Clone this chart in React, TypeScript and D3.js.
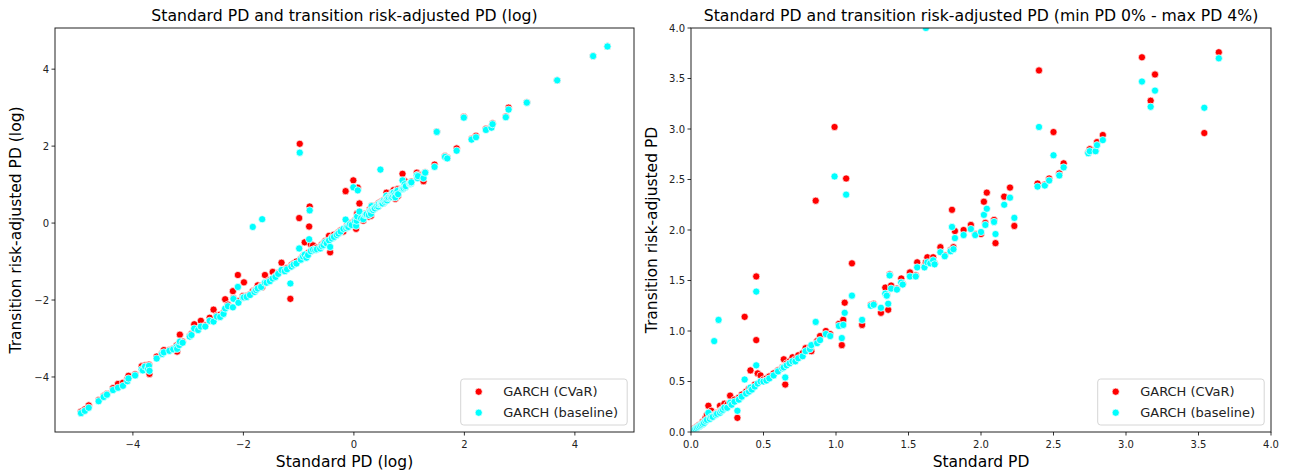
import React from "react";
import * as d3 from "d3";

// ---------- Data: left panel (log scale) ----------
const logStdPD = [
  -4.94, -4.87, -4.8, -4.62, -4.53, -4.47, -4.36, -4.27, -4.18, -4.1,
  -4.08, -3.96, -3.84, -3.82, -3.78, -3.73, -3.71, -3.7, -3.57, -3.47,
  -3.44, -3.34, -3.27, -3.21, -3.2, -3.16, -3.15, -3.1, -2.97, -2.94,
  -2.89, -2.82, -2.77, -2.69, -2.61, -2.54, -2.48, -2.42, -2.36, -2.33,
  -2.28, -2.19, -2.18, -2.1, -2.09, -2.01, -1.99, -1.94, -1.88, -1.83,
  -1.8, -1.77, -1.74, -1.68, -1.66, -1.61, -1.58, -1.52, -1.47, -1.42,
  -1.37, -1.31, -1.25, -1.21, -1.15, -1.13, -1.09, -1.04, -0.99, -0.98,
  -0.96, -0.92, -0.89, -0.86, -0.83, -0.8, -0.81, -0.78, -0.74, -0.7,
  -0.67, -0.61, -0.58, -0.55, -0.52, -0.49, -0.45, -0.43, -0.4, -0.36,
  -0.31, -0.28, -0.24, -0.19, -0.15, -0.14, -0.12, -0.1, -0.07, -0.04,
  -0.01, 0.02, 0.04, 0.05, 0.06, 0.07, 0.1, 0.13, 0.17, 0.2,
  0.22, 0.23, 0.27, 0.29, 0.3, 0.31, 0.32, 0.33, 0.35, 0.37,
  0.38, 0.41, 0.44, 0.45, 0.48, 0.48, 0.49, 0.5, 0.51, 0.52,
  0.54, 0.56, 0.58, 0.59, 0.6, 0.61, 0.63, 0.66, 0.67, 0.69,
  0.7, 0.71, 0.72, 0.74, 0.75, 0.77, 0.79, 0.8, 0.87, 0.88,
  0.89, 0.9, 0.92, 0.93, 0.94, 1.01, 1.01, 1.03, 1.03, 1.04,
  1.14, 1.15, 1.16, 1.26, 1.29, 1.46, 1.5, 1.65, 1.69, 1.86,
  1.99, 2.13, 2.21, 2.39, 2.49, 2.51, 2.75, 2.8, 3.13, 3.68,
  4.33, 4.59,
];
const logCvarPD = [
  -4.9, -4.84, -4.74, -4.6, -4.5, -4.44, -4.29, -4.18, -4.15, -4.05,
  -3.97, -3.93, -3.72, -3.8, -3.7, -3.76, -3.68, -3.92, -3.47, -3.38,
  -3.3, -3.3, -3.26, -3.18, -3.34, -3.14, -2.9, -3.08, -2.93, -2.88,
  -2.63, -2.76, -2.54, -2.66, -2.46, -2.25, -2.4, -2.38, -2.33, -1.98,
  -2.12, -1.77, -1.95, -1.35, -2.03, -1.9, -1.54, -1.9, -1.85, -1.77,
  -1.76, -1.72, -1.62, -1.64, -1.66, -1.35, -1.52, -1.48, -1.27, -1.38,
  -1.3, -1.03, -1.22, -1.17, -1.97, -1.09, -1.05, -1.0, 0.13, 2.06,
  -0.93, -0.85, -0.5, -0.86, -0.78, 0.43, -0.09, -0.55, -0.58, -0.67,
  -0.64, -0.62, -0.56, -0.53, -0.47, -0.48, -0.33, -0.76, -0.37, -0.3,
  -0.28, -0.24, -0.19, -0.22, 0.83, -0.11, -0.05, -0.08, 0.0, -0.03,
  1.11, 0.07, -0.15, 0.1, 0.25, 0.92, 0.51, 0.15, 0.06, 0.24,
  0.23, 0.24, 0.17, 0.36, 0.31, 0.19, 0.45, 0.37, 0.35, 0.42,
  0.39, 0.46, 0.44, 0.52, 0.5, 0.52, 0.55, 0.52, 0.55, 0.51,
  0.6, 0.56, 0.59, 0.79, 0.6, 0.69, 0.69, 0.72, 0.67, 0.67,
  0.82, 0.73, 0.86, 0.74, 0.63, 0.85, 0.88, 0.71, 0.9, 1.28,
  0.9, 0.92, 1.09, 0.94, 0.98, 1.02, 1.03, 1.03, 1.05, 1.08,
  1.31, 1.19, 1.26, 1.09, 1.32, 1.52, 2.38, 1.74, 1.7, 1.94,
  2.76, 2.19, 2.27, 2.45, 2.5, 2.59, 2.77, 3.0, 3.14, 3.71,
  4.34, 4.59,
];
const logBasePD = [
  -4.94, -4.88, -4.8, -4.63, -4.52, -4.46, -4.34, -4.28, -4.23, -4.11,
  -4.04, -3.96, -3.8, -3.83, -3.73, -3.79, -3.71, -3.84, -3.52, -3.4,
  -3.36, -3.32, -3.28, -3.22, -3.27, -3.17, -3.08, -3.11, -2.95, -2.91,
  -2.74, -2.78, -2.69, -2.69, -2.54, -2.56, -2.43, -2.44, -2.36, -2.22,
  -2.16, -2.19, -1.97, -1.66, -2.07, -1.94, -1.93, -1.92, -1.87, -0.1,
  -1.79, -1.74, -1.7, -1.66, 0.1, -1.55, -1.55, -1.51, -1.44, -1.4,
  -1.32, -1.22, -1.25, -1.2, -1.57, -1.13, -1.08, -1.05, -0.66, 1.83,
  -0.95, -0.87, -0.82, -0.9, -0.83, 0.33, -0.42, -0.73, -0.69, -0.7,
  -0.68, -0.66, -0.6, -0.57, -0.5, -0.53, -0.45, -0.62, -0.4, -0.36,
  -0.31, -0.27, -0.22, -0.15, 0.09, -0.13, -0.09, -0.1, -0.03, -0.05,
  0.93, 0.05, -0.07, 0.06, 0.17, 0.85, 0.3, 0.12, 0.1, 0.21,
  0.22, 0.23, 0.21, 0.32, 0.3, 0.24, 0.44, 0.35, 0.34, 0.39,
  0.38, 0.43, 0.43, 0.49, 0.49, 1.39, 0.52, 0.51, 0.53, 0.51,
  0.58, 0.55, 0.58, 0.71, 0.59, 0.65, 0.67, 0.7, 0.67, 0.68,
  0.77, 0.72, 0.79, 0.73, 0.67, 0.81, 0.84, 0.75, 0.89, 1.11,
  0.89, 0.91, 1.01, 0.93, 0.96, 1.02, 1.02, 1.02, 1.04, 1.06,
  1.24, 1.17, 1.22, 1.17, 1.31, 1.46, 2.37, 1.72, 1.68, 1.88,
  2.74, 2.17, 2.23, 2.42, 2.48, 2.57, 2.75, 2.95, 3.13, 3.71,
  4.34, 4.59,
];

// ---------- Data: right panel (PD in %, 0-4) ----------
const stdPD = [
  0.01, 0.02, 0.03, 0.04, 0.05, 0.06, 0.07, 0.08, 0.09, 0.1,
  0.11, 0.12, 0.13, 0.14, 0.15, 0.16, 0.17, 0.18, 0.19, 0.2,
  0.21, 0.22, 0.23, 0.25, 0.27, 0.28, 0.3, 0.32, 0.33, 0.35,
  0.37, 0.38, 0.4, 0.41, 0.42, 0.44, 0.45, 0.45, 0.46, 0.48,
  0.5, 0.52, 0.54, 0.57, 0.6, 0.63, 0.64, 0.65, 0.66, 0.68,
  0.7, 0.72, 0.74, 0.77, 0.79, 0.82, 0.83, 0.86, 0.87, 0.89,
  0.93, 0.96, 0.99, 1.02, 1.04, 1.05, 1.06, 1.07, 1.11, 1.18,
  1.24, 1.26, 1.31, 1.34, 1.35, 1.36, 1.37, 1.38, 1.42, 1.45,
  1.46, 1.51, 1.55, 1.56, 1.61, 1.62, 1.63, 1.65, 1.67, 1.68,
  1.72, 1.75, 1.79, 1.8, 1.81, 1.82, 1.88, 1.93, 1.96, 2.0,
  2.02, 2.03, 2.04, 2.09, 2.1, 2.16, 2.2, 2.23, 2.39, 2.4,
  2.44, 2.47, 2.5, 2.54, 2.57, 2.74, 2.75, 2.79, 2.8, 2.84,
  3.11, 3.17, 3.2, 3.54, 3.64,
];
const cvarPD = [
  0.01, 0.03, 0.03, 0.05, 0.06, 0.07, 0.07, 0.1, 0.1, 0.14,
  0.17, 0.26, 0.14, 0.21, 0.16, 0.17, 0.18, 0.19, 0.19, 0.26,
  0.22, 0.23, 0.28, 0.27, 0.36, 0.29, 0.32, 0.14, 0.34, 0.37,
  1.14, 0.4, 0.43, 0.61, 0.44, 0.47, 1.54, 0.91, 0.58, 0.56,
  0.52, 0.53, 0.55, 0.58, 0.61, 0.64, 0.72, 0.47, 0.68, 0.7,
  0.74, 0.72, 0.76, 0.78, 0.83, 0.84, 0.8, 2.29, 0.9, 0.95,
  1.0, 0.97, 3.02, 1.07, 0.86, 1.11, 1.28, 2.51, 1.67, 1.06,
  1.26, 1.27, 1.18, 1.43, 1.36, 1.21, 1.56, 1.45, 1.42, 1.52,
  1.47, 1.58, 1.55, 1.68, 1.64, 1.68, 1.73, 1.68, 1.73, 1.67,
  1.83, 1.75, 1.8, 2.2, 1.83, 1.99, 2.0, 2.05, 1.96, 1.96,
  2.28, 2.07, 2.37, 2.1, 1.87, 2.33, 2.42, 2.04, 2.46, 3.58,
  2.45, 2.51, 2.97, 2.56, 2.66, 2.77, 2.8, 2.79, 2.87, 2.94,
  3.71, 3.28, 3.54, 2.96, 3.76,
];
const basePD = [
  0.01, 0.02, 0.03, 0.04, 0.05, 0.06, 0.07, 0.08, 0.09, 0.11,
  0.12, 0.19, 0.13, 0.15, 0.15, 0.9, 0.17, 0.18, 1.11, 0.19,
  0.21, 0.22, 0.24, 0.24, 0.29, 0.27, 0.3, 0.21, 0.32, 0.35,
  0.52, 0.38, 0.4, 0.44, 0.42, 0.45, 1.39, 0.66, 0.48, 0.5,
  0.5, 0.51, 0.53, 0.56, 0.6, 0.63, 0.64, 0.54, 0.66, 0.68,
  0.7, 0.7, 0.73, 0.75, 0.8, 0.82, 0.86, 1.09, 0.88, 0.91,
  0.97, 0.95, 2.53, 1.05, 0.93, 1.06, 1.18, 2.35, 1.35, 1.11,
  1.25, 1.26, 1.23, 1.37, 1.35, 1.27, 1.55, 1.42, 1.41, 1.48,
  1.46, 1.54, 1.54, 1.63, 1.63, 4.0, 1.68, 1.67, 1.7, 1.66,
  1.78, 1.74, 1.79, 2.03, 1.81, 1.92, 1.95, 2.01, 1.95, 1.98,
  2.15, 2.05, 2.21, 2.08, 1.96, 2.25, 2.32, 2.12, 2.43, 3.02,
  2.44, 2.49, 2.74, 2.54, 2.62, 2.76, 2.78, 2.78, 2.84, 2.89,
  3.47, 3.22, 3.38, 3.21, 3.7,
];

const leftTicks = [-4, -2, 0, 2, 4];
const rightTicks = [0, 0.5, 1, 1.5, 2, 2.5, 3, 3.5, 4];
const seriesNames = ["GARCH (CVaR)", "GARCH (baseline)"];
const seriesColors = ["#ff0000", "#00ffff"];

const FONT = "'DejaVu Sans', sans-serif";

type PanelProps = {
  id: string;
  title: string;
  xLabel: string;
  yLabel: string;
  xs: number[];
  cvar: number[];
  base: number[];
  xDomain: [number, number];
  yDomain: [number, number];
  xRange: [number, number];
  yRange: [number, number];
  xTicks: number[];
  yTicks: number[];
  fmt: (v: number) => string;
  yLabelX: number;
  legendX: number;
};

function Panel(p: PanelProps) {
  const x = d3.scaleLinear().domain(p.xDomain).range(p.xRange);
  const y = d3.scaleLinear().domain(p.yDomain).range(p.yRange);
  const [x0, x1] = p.xRange;
  const [y1, y0] = p.yRange; // y1 = bottom, y0 = top
  const cx = (x0 + x1) / 2;
  const cy = (y0 + y1) / 2;
  const r = 3.6;
  const lg = { x: p.legendX, y: 379, w: 166.5, h: 46 };
  return (
    <g>
      <defs>
        <clipPath id={p.id}>
          <rect x={x0} y={y0} width={x1 - x0} height={y1 - y0} />
        </clipPath>
      </defs>
      <text x={cx} y={21} textAnchor="middle" fontFamily={FONT} fontSize={15.7} fill="#000">
        {p.title}
      </text>
      <g clipPath={`url(#${p.id})`}>
        {p.xs.map((v, i) => (
          <circle key={"c" + i} cx={x(v)} cy={y(p.cvar[i])} r={r} fill={seriesColors[0]} stroke="#fff" strokeWidth={0.7} />
        ))}
        {p.xs.map((v, i) => (
          <circle key={"b" + i} cx={x(v)} cy={y(p.base[i])} r={r} fill={seriesColors[1]} stroke="#fff" strokeWidth={0.7} />
        ))}
      </g>
      <rect x={x0} y={y0} width={x1 - x0} height={y1 - y0} fill="none" stroke="#222" strokeWidth={1} />
      {p.xTicks.map((t) => (
        <g key={"xt" + t}>
          <line x1={x(t)} x2={x(t)} y1={y1} y2={y1 + 3.5} stroke="#000" strokeWidth={0.8} />
          <text x={x(t)} y={y1 + 16} textAnchor="middle" fontFamily={FONT} fontSize={10} fill="#222">
            {p.fmt(t)}
          </text>
        </g>
      ))}
      {p.yTicks.map((t) => (
        <g key={"yt" + t}>
          <line x1={x0 - 3.5} x2={x0} y1={y(t)} y2={y(t)} stroke="#000" strokeWidth={0.8} />
          <text x={x0 - 6} y={y(t) + 3.6} textAnchor="end" fontFamily={FONT} fontSize={10} fill="#222">
            {p.fmt(t)}
          </text>
        </g>
      ))}
      <text x={cx} y={467} textAnchor="middle" fontFamily={FONT} fontSize={15.5} fill="#000">
        {p.xLabel}
      </text>
      <text
        transform={`translate(${p.yLabelX},${cy}) rotate(-90)`}
        textAnchor="middle"
        fontFamily={FONT}
        fontSize={15.5}
        fill="#000"
      >
        {p.yLabel}
      </text>
      <rect x={lg.x} y={lg.y} width={lg.w} height={lg.h} rx={3} fill="#fff" fillOpacity={0.8} stroke="#d6d6d6" strokeWidth={1} />
      {seriesNames.map((n, i) => (
        <g key={n}>
          <circle cx={lg.x + 18} cy={lg.y + 12.7 + i * 21} r={r} fill={seriesColors[i]} stroke="#fff" strokeWidth={0.7} />
          <text x={lg.x + 42.5} y={lg.y + 17.2 + i * 21} fontFamily={FONT} fontSize={13} fill="#222">
            {n}
          </text>
        </g>
      ))}
    </g>
  );
}

const minus = (v: number) => (v < 0 ? "\u2212" + Math.abs(v) : String(v));

export default function App() {
  return (
    <svg width={1289} height={473} style={{ display: "block", position: "absolute", left: 0, top: 0 }}>
      <rect width={1289} height={473} fill="#fff" />
      <Panel
        id="clipL"
        title="Standard PD and transition risk-adjusted PD (log)"
        xLabel="Standard PD (log)"
        yLabel="Transition risk-adjusted PD (log)"
        xs={logStdPD}
        cvar={logCvarPD}
        base={logBasePD}
        xDomain={[-5.41, 5.07]}
        yDomain={[-5.43, 5.07]}
        xRange={[55, 634]}
        yRange={[432, 28]}
        xTicks={leftTicks}
        yTicks={leftTicks}
        fmt={minus}
        yLabelX={21}
        legendX={460.7}
      />
      <Panel
        id="clipR"
        title="Standard PD and transition risk-adjusted PD (min PD 0% - max PD 4%)"
        xLabel="Standard PD"
        yLabel="Transition risk-adjusted PD"
        xs={stdPD}
        cvar={cvarPD}
        base={basePD}
        xDomain={[0, 4]}
        yDomain={[0, 4]}
        xRange={[691, 1271]}
        yRange={[432, 28]}
        xTicks={rightTicks}
        yTicks={rightTicks}
        fmt={(v) => v.toFixed(1)}
        yLabelX={657}
        legendX={1097.7}
      />
    </svg>
  );
}
